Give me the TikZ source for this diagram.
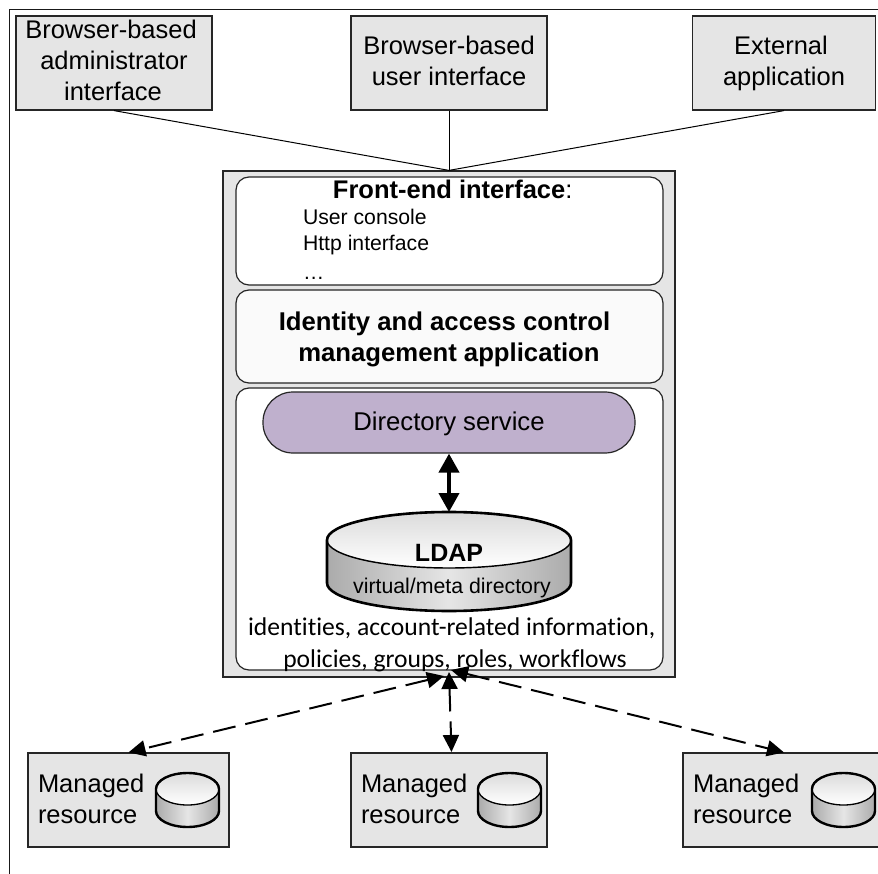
\documentclass[tikz,border=0pt]{standalone}
\usepackage{fontspec}
\setmainfont{Liberation Sans}
\newfontfamily\calibrifont[RawFeature=-liga;-clig;-dlig]{Carlito}
\usetikzlibrary{arrows.meta}
\definecolor{boxgrey}{RGB}{229,229,229}
\definecolor{dirpurple}{RGB}{191,176,205}
\tikzset{
  greybox/.style={draw=black!85,line width=1.2pt,fill=boxgrey,rectangle,inner sep=0pt,minimum height=94pt,align=center,text depth=5pt,font=\fontsize{25.5}{31}\selectfont},
  layer/.style={draw=black!85,line width=1.2pt,fill=white,rectangle,rounded corners=13pt,inner sep=0pt,minimum width=427pt},
  plain/.style={inner sep=0pt,outer sep=0pt,align=left},
  thinline/.style={draw=black,line width=1pt},
  dashlink/.style={draw=black,line width=2pt,dash pattern=on 23pt off 10pt,{Triangle[length=17pt,width=16pt]}-{Triangle[length=17pt,width=16pt]}},
}
\newcommand{\cyl}[7]{% cx, (unused top), top-centre y, ry, bottom-centre y, rx, line width
  \fill[left color=black!33,right color=black!33,middle color=black!10] (#1-#6,#3) -- (#1-#6,#5) arc[start angle=180,end angle=0,x radius=#6,y radius=#4] -- (#1+#6,#3) -- cycle;
  \fill[top color=black!14,bottom color=white] (#1,#3) ellipse[x radius=#6,y radius=#4];
  \draw[line width=#7*0.55] (#1,#3) ellipse[x radius=#6,y radius=#4];
  \draw[line width=#7] (#1-#6,#5) -- (#1-#6,#3) arc[start angle=180,end angle=360,x radius=#6,y radius=#4] -- (#1+#6,#5);
  \draw[line width=#7] (#1-#6,#5) arc[start angle=180,end angle=0,x radius=#6,y radius=#4];
}
\begin{document}
\begin{tikzpicture}[x=1pt,y=-1pt]
\useasboundingbox (0,0) rectangle (878,874);
\fill[white] (0,0) rectangle (878,874);
\draw[line width=1.8pt,black!90] (9.5,874) -- (9.5,9.5) -- (878,9.5);

\node[greybox,minimum width=196pt] (admin) at (114,63) {Browser-based\hspace*{6pt}\\administrator\hspace*{6pt}\\interface\hspace*{2pt}};
\node[greybox,minimum width=196pt] (user) at (449,63) {Browser-based\\user interface};
\node[greybox,minimum width=183pt] (ext) at (784,63) {External\hspace*{6pt}\\application};

\node[draw=black!85,line width=1.2pt,fill=boxgrey,minimum width=452pt,minimum height=506pt,inner sep=0pt] (main) at (449,424) {};
\node[layer,minimum height=108pt] (front) at (449.5,231) {};
\node[layer,minimum height=93pt,fill=white!98!black] (iam) at (449.5,336.5) {};
\node[layer,minimum height=282pt] (store) at (449.5,529) {};
\node[draw=black!85,line width=1.2pt,fill=dirpurple,rounded corners=30pt,minimum width=372pt,minimum height=61pt,inner sep=0pt,text depth=3pt,font=\fontsize{25.7}{28}\selectfont] (dir) at (449,422.5) {Directory service};

\node[plain,font=\bfseries\fontsize{25.5}{28}\selectfont,anchor=base] (fronttitle) at (452.7,199) {Front-end interface\textmd{:}};
\node[plain,anchor=base west,font=\fontsize{21.2}{26}\selectfont] (uc) at (303,225) {User console};
\node[plain,anchor=base west,font=\fontsize{21.2}{26}\selectfont] (http) at (303,250.7) {Http interface};
\node[plain,anchor=base west,font=\fontsize{21.2}{26}\selectfont] (dots) at (303,280) {…};
\node[plain,align=center,font=\bfseries\fontsize{25.7}{31}\selectfont] (iamt) at (449,339) {Identity and access control\hspace*{9pt}\\management application};

\cyl{449}{512}{540}{28}{583}{122}{2.6pt}
\coordinate (cyltop) at (449,512);
\node[plain,font=\bfseries\fontsize{25}{28}\selectfont,anchor=base] (ldap) at (449,561.5) {LDAP};
\node[plain,font=\fontsize{21.3}{24}\selectfont,anchor=base] (virt) at (452,593) {virtual/meta directory};
\node[plain,anchor=base,font=\calibrifont\fontsize{25.6}{30}\selectfont] (l1) at (451.7,635) {identities, account-related information,};
\node[plain,anchor=base,font=\calibrifont\fontsize{25.6}{30}\selectfont] (l2) at (455,667) {policies, groups, roles, workflows};

\draw[line width=4pt,{Triangle[length=19pt,width=20pt]}-{Triangle[length=19pt,width=20pt]}] (dir.south) -- (cyltop);

\draw[thinline] (admin.south) -- (main.north);
\draw[thinline] (user.south) -- (main.north);
\draw[thinline] (ext.south) -- (main.north);

\node[greybox,minimum width=201pt] (m1) at (128.5,800) {};
\node[greybox,minimum width=196pt] (m2) at (449,800) {};
\node[greybox,minimum width=202pt] (m3) at (784,800) {};
\node[plain,font=\fontsize{25.5}{31}\selectfont,anchor=west] (t1) at (38,799) {Managed\\resource};
\node[plain,font=\fontsize{25.5}{31}\selectfont,anchor=west] (t2) at (361,799) {Managed\\resource};
\node[plain,font=\fontsize{25.5}{31}\selectfont,anchor=west] (t3) at (693,799) {Managed\\resource};
\cyl{187.5}{773}{789}{16}{811}{31.5}{2.4pt}
\cyl{509.5}{773}{789}{16}{811}{31.5}{2.4pt}
\cyl{843.5}{773}{789}{16}{811}{31.5}{2.4pt}

\coordinate (hubl) at (444,676);
\coordinate (hubm) at (449,672);
\coordinate (hubr) at (451,670);
\coordinate (m2t) at (451.5,752);
\draw[dashlink] (hubl) -- (m1.north);
\draw[dashlink] (hubm) -- (m2t);
\draw[dashlink] (hubr) -- (m3.north);
\end{tikzpicture}
\end{document}
